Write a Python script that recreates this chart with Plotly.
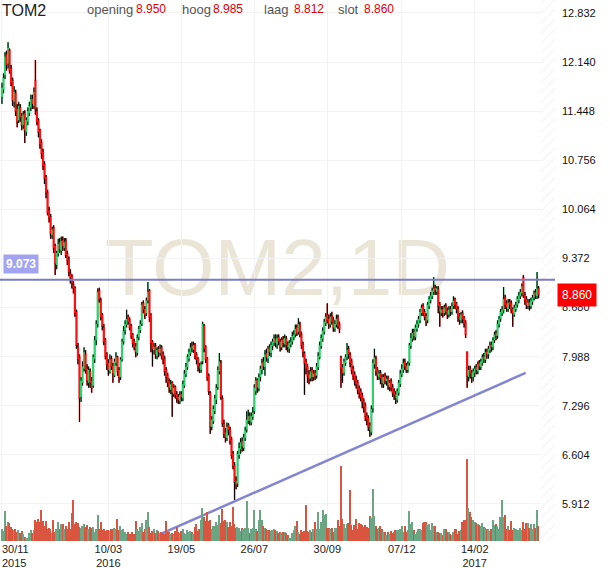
import plotly.graph_objects as go

# daily candles TOM2, 30/11/2015 .. begin april 2017
opens = [
    11.65, 11.75, 11.95, 12.25, 12.12, 12.30, 12.05, 11.88, 11.58, 11.70,
    11.48, 11.32, 11.50, 11.38, 11.25, 11.42, 11.15, 11.30, 11.42, 11.50,
    11.62, 11.52, 11.88, 11.45, 11.32, 11.18, 11.00, 10.88, 10.70, 10.52,
    10.30, 10.05, 9.96, 9.70, 9.80, 9.55, 9.28, 9.44, 9.60, 9.48,
    9.63, 9.52, 9.62, 9.44, 9.36, 9.16, 9.12, 9.00, 8.96, 8.62,
    8.12, 7.98, 7.42, 7.62, 7.82, 8.02, 7.82, 7.62, 7.78, 7.65,
    7.58, 7.95, 8.22, 8.45, 8.92, 8.78, 8.58, 8.40, 8.22, 8.02,
    7.90, 7.78, 7.96, 7.86, 7.72, 7.90, 7.98, 7.80, 7.70, 7.95,
    8.20, 8.36, 8.44, 8.55, 8.50, 8.42, 8.30, 8.20, 8.14, 8.04,
    8.26, 8.36, 8.45, 8.74, 8.66, 8.60, 8.78, 8.92, 8.58, 8.20,
    8.08, 8.14, 8.00, 8.10, 8.04, 8.12, 8.02, 7.96, 7.80, 7.72,
    7.64, 7.52, 7.62, 7.46, 7.56, 7.46, 7.42, 7.36, 7.46, 7.40,
    7.58, 7.74, 7.84, 7.96, 8.04, 8.14, 8.08, 8.16, 8.02, 7.96,
    7.86, 7.80, 7.92, 8.42, 8.12, 7.96, 7.72, 7.48, 7.00, 7.08,
    7.22, 7.38, 7.56, 7.78, 7.90, 7.40, 7.04, 6.92, 6.84, 7.02,
    6.96, 6.82, 6.62, 6.46, 6.24, 6.20, 6.60, 6.68, 6.80, 6.70,
    6.84, 6.96, 7.08, 7.16, 7.06, 7.14, 7.22, 7.50, 7.66, 7.54,
    7.70, 7.80, 7.92, 7.84, 8.04, 7.96, 8.12, 8.04, 8.14, 8.18,
    8.24, 8.16, 8.26, 8.20, 8.12, 8.24, 8.16, 8.24, 8.16, 8.10,
    8.16, 8.20, 8.26, 8.30, 8.40, 8.34, 8.44, 8.30, 8.16, 8.04,
    7.92, 7.84, 7.74, 7.68, 7.80, 7.70, 7.76, 7.72, 7.84, 7.98,
    8.14, 8.24, 8.34, 8.46, 8.58, 8.52, 8.44, 8.56, 8.50, 8.38,
    8.44, 8.54, 8.44, 7.98, 7.84, 7.76, 7.90, 7.98, 8.10, 8.02,
    7.92, 7.82, 7.74, 7.66, 7.62, 7.54, 7.50, 7.44, 7.36, 7.30,
    7.16, 7.12, 7.02, 6.92, 7.26, 7.88, 7.96, 7.80, 7.70, 7.76,
    7.70, 7.60, 7.72, 7.64, 7.68, 7.56, 7.64, 7.56, 7.50, 7.46,
    7.38, 7.48, 7.60, 7.74, 7.80, 7.92, 7.86, 7.80, 7.90, 8.14,
    8.24, 8.34, 8.26, 8.38, 8.44, 8.50, 8.60, 8.70, 8.62, 8.56,
    8.50, 8.70, 8.78, 8.84, 8.90, 8.96, 8.90, 8.94, 8.72, 8.60,
    8.66, 8.60, 8.70, 8.64, 8.58, 8.66, 8.62, 8.70, 8.80, 8.74,
    8.66, 8.56, 8.50, 8.60, 8.54, 8.46, 8.05, 7.70, 7.82, 7.76,
    7.70, 7.76, 7.84, 7.78, 7.90, 7.84, 7.90, 7.99, 7.94, 8.06,
    8.02, 8.08, 8.16, 8.12, 8.22, 8.32, 8.28, 8.44, 8.52, 8.60,
    8.64, 8.82, 8.74, 8.66, 8.76, 8.74, 8.66, 8.58, 8.66, 8.72,
    8.78, 8.84, 8.88, 9.10, 8.86, 8.80, 8.70, 8.76, 8.70, 8.76, 8.82, 8.90, 8.84, 8.95,
]
highs = [
    11.85, 11.98, 12.28, 12.30, 12.42, 12.33, 12.10, 11.92, 11.80, 11.75,
    11.55, 11.58, 11.55, 11.42, 11.45, 11.46, 11.36, 11.50, 11.58, 11.68,
    11.68, 11.78, 12.17, 11.50, 11.35, 11.20, 11.05, 10.92, 10.74, 10.55,
    10.34, 10.10, 10.00, 9.82, 9.84, 9.58, 9.48, 9.65, 9.66, 9.68,
    9.68, 9.66, 9.66, 9.48, 9.40, 9.22, 9.15, 9.05, 8.98, 8.65,
    8.18, 8.02, 7.70, 7.92, 8.12, 8.08, 7.88, 7.85, 7.82, 7.70,
    8.02, 8.28, 8.50, 8.95, 8.96, 8.82, 8.60, 8.45, 8.25, 8.05,
    7.95, 8.02, 8.00, 7.90, 7.96, 8.05, 8.00, 7.84, 7.98, 8.24,
    8.42, 8.50, 8.65, 8.58, 8.54, 8.45, 8.32, 8.24, 8.18, 8.30,
    8.42, 8.50, 8.76, 8.78, 8.70, 8.82, 9.04, 8.94, 8.60, 8.22,
    8.18, 8.18, 8.12, 8.14, 8.16, 8.15, 8.06, 8.00, 7.84, 7.76,
    7.68, 7.66, 7.64, 7.60, 7.58, 7.50, 7.46, 7.50, 7.50, 7.65,
    7.80, 7.90, 8.02, 8.10, 8.18, 8.20, 8.20, 8.18, 8.05, 7.98,
    7.90, 7.92, 8.48, 8.45, 8.15, 7.98, 7.75, 7.50, 7.15, 7.30,
    7.45, 7.60, 7.85, 8.04, 7.94, 7.44, 7.10, 6.98, 7.06, 7.05,
    7.00, 6.86, 6.66, 6.50, 6.30, 6.66, 6.78, 6.84, 6.85, 6.90,
    7.00, 7.22, 7.24, 7.20, 7.20, 7.28, 7.60, 7.70, 7.68, 7.75,
    7.86, 7.96, 7.98, 8.08, 8.10, 8.14, 8.16, 8.20, 8.24, 8.30,
    8.30, 8.30, 8.30, 8.24, 8.26, 8.28, 8.30, 8.28, 8.20, 8.22,
    8.26, 8.34, 8.36, 8.44, 8.44, 8.53, 8.48, 8.34, 8.20, 8.06,
    7.96, 7.88, 7.80, 7.84, 7.84, 7.80, 7.80, 7.90, 8.05, 8.20,
    8.30, 8.40, 8.52, 8.60, 8.74, 8.58, 8.60, 8.62, 8.55, 8.50,
    8.58, 8.58, 8.48, 8.00, 7.88, 7.96, 8.02, 8.18, 8.14, 8.05,
    7.96, 7.86, 7.78, 7.72, 7.66, 7.58, 7.54, 7.48, 7.40, 7.34,
    7.20, 7.16, 7.06, 7.30, 7.95, 8.10, 8.00, 7.84, 7.80, 7.80,
    7.74, 7.74, 7.76, 7.72, 7.72, 7.66, 7.68, 7.60, 7.54, 7.50,
    7.54, 7.66, 7.80, 7.88, 7.96, 7.96, 7.90, 7.92, 8.18, 8.32,
    8.38, 8.38, 8.44, 8.50, 8.56, 8.66, 8.72, 8.74, 8.66, 8.60,
    8.76, 8.84, 8.90, 8.96, 9.11, 9.00, 8.98, 8.98, 8.76, 8.70,
    8.70, 8.72, 8.74, 8.68, 8.70, 8.70, 8.75, 8.84, 8.82, 8.76,
    8.70, 8.60, 8.62, 8.64, 8.56, 8.50, 8.06, 7.86, 7.86, 7.80,
    7.82, 7.86, 7.88, 7.92, 7.94, 7.96, 8.02, 8.04, 8.10, 8.10,
    8.14, 8.20, 8.20, 8.26, 8.34, 8.36, 8.50, 8.56, 8.66, 8.70,
    8.97, 8.86, 8.78, 8.80, 8.80, 8.78, 8.68, 8.72, 8.76, 8.84,
    8.90, 8.94, 9.02, 9.14, 8.90, 8.84, 8.80, 8.80, 8.82, 8.86, 8.92, 8.94, 9.18, 8.985,
]
lows = [
    11.55, 11.70, 11.90, 12.02, 12.05, 11.98, 11.80, 11.52, 11.50, 11.38,
    11.22, 11.28, 11.30, 11.18, 11.20, 11.00, 11.10, 11.25, 11.38, 11.45,
    11.48, 11.48, 11.40, 11.25, 11.08, 10.92, 10.78, 10.62, 10.42, 10.22,
    9.98, 9.88, 9.65, 9.65, 9.45, 9.14, 9.22, 9.40, 9.45, 9.42,
    9.48, 9.48, 9.38, 9.28, 9.12, 9.02, 8.95, 8.88, 8.55, 8.10,
    7.88, 7.07, 7.35, 7.58, 7.78, 7.75, 7.58, 7.55, 7.55, 7.48,
    7.55, 7.90, 8.15, 8.40, 8.75, 8.50, 8.36, 8.15, 7.95, 7.80,
    7.72, 7.75, 7.80, 7.62, 7.70, 7.86, 7.72, 7.62, 7.66, 7.92,
    8.16, 8.30, 8.40, 8.44, 8.36, 8.24, 8.12, 8.08, 7.98, 8.00,
    8.22, 8.32, 8.42, 8.60, 8.52, 8.56, 8.74, 8.48, 8.05, 7.85,
    8.02, 7.96, 7.95, 7.98, 8.00, 7.95, 7.88, 7.72, 7.62, 7.56,
    7.48, 7.46, 7.14, 7.42, 7.40, 7.34, 7.32, 7.32, 7.36, 7.36,
    7.55, 7.70, 7.80, 7.92, 8.00, 8.05, 8.04, 7.95, 7.88, 7.78,
    7.76, 7.76, 7.88, 8.05, 7.90, 7.65, 7.45, 6.90, 6.95, 7.04,
    7.18, 7.32, 7.52, 7.74, 7.38, 7.00, 6.84, 6.78, 6.80, 6.88,
    6.75, 6.55, 6.40, 5.97, 6.12, 6.15, 6.55, 6.62, 6.65, 6.66,
    6.80, 6.92, 7.04, 7.02, 7.02, 7.10, 7.18, 7.45, 7.48, 7.50,
    7.64, 7.74, 7.80, 7.72, 7.92, 7.90, 8.00, 7.98, 8.08, 8.14,
    8.12, 8.10, 8.15, 8.06, 8.08, 8.12, 8.12, 8.08, 8.05, 8.04,
    8.12, 8.16, 8.22, 8.26, 8.28, 8.30, 8.26, 8.10, 7.98, 7.45,
    7.74, 7.62, 7.60, 7.64, 7.64, 7.65, 7.66, 7.68, 7.80, 7.95,
    8.10, 8.20, 8.30, 8.42, 8.46, 8.38, 8.40, 8.44, 8.34, 8.34,
    8.40, 8.38, 8.32, 7.55, 7.62, 7.72, 7.86, 7.94, 7.96, 7.84,
    7.74, 7.66, 7.58, 7.54, 7.46, 7.40, 7.36, 7.26, 7.20, 7.08,
    7.02, 6.94, 6.86, 6.88, 7.20, 7.82, 7.72, 7.66, 7.66, 7.60,
    7.55, 7.55, 7.60, 7.58, 7.52, 7.50, 7.50, 7.42, 7.38, 7.32,
    7.34, 7.44, 7.56, 7.70, 7.76, 7.80, 7.76, 7.76, 7.86, 8.10,
    8.20, 8.22, 8.22, 8.34, 8.40, 8.46, 8.56, 8.56, 8.50, 8.42,
    8.46, 8.66, 8.74, 8.80, 8.86, 8.86, 8.86, 8.60, 8.41, 8.56,
    8.54, 8.56, 8.58, 8.52, 8.54, 8.56, 8.58, 8.66, 8.66, 8.60,
    8.48, 8.44, 8.46, 8.46, 8.40, 8.25, 7.55, 7.64, 7.68, 7.62,
    7.64, 7.70, 7.74, 7.74, 7.80, 7.80, 7.86, 7.90, 7.90, 7.96,
    7.96, 8.04, 8.06, 8.08, 8.18, 8.22, 8.24, 8.40, 8.48, 8.56,
    8.60, 8.66, 8.62, 8.62, 8.66, 8.60, 8.41, 8.55, 8.62, 8.68,
    8.74, 8.80, 8.84, 8.82, 8.72, 8.66, 8.66, 8.64, 8.66, 8.72, 8.78, 8.80, 8.80, 8.812,
]
closes = [
    11.78, 11.92, 12.22, 12.10, 12.34, 12.02, 11.85, 11.60, 11.72, 11.45,
    11.30, 11.52, 11.36, 11.25, 11.40, 11.18, 11.32, 11.45, 11.52, 11.62,
    11.55, 11.72, 11.48, 11.30, 11.15, 10.98, 10.85, 10.68, 10.50, 10.30,
    10.02, 9.95, 9.72, 9.78, 9.52, 9.30, 9.45, 9.58, 9.50, 9.62,
    9.55, 9.60, 9.42, 9.35, 9.18, 9.10, 9.02, 8.95, 8.60, 8.15,
    7.95, 7.40, 7.65, 7.85, 8.05, 7.80, 7.65, 7.80, 7.62, 7.55,
    7.98, 8.22, 8.45, 8.90, 8.80, 8.55, 8.42, 8.20, 8.00, 7.88,
    7.80, 7.95, 7.85, 7.75, 7.92, 7.98, 7.78, 7.70, 7.95, 8.20,
    8.35, 8.45, 8.52, 8.48, 8.40, 8.28, 8.18, 8.12, 8.05, 8.25,
    8.38, 8.45, 8.72, 8.65, 8.58, 8.78, 8.90, 8.55, 8.18, 8.10,
    8.12, 8.02, 8.08, 8.05, 8.10, 8.00, 7.95, 7.78, 7.70, 7.62,
    7.55, 7.60, 7.48, 7.55, 7.45, 7.40, 7.38, 7.45, 7.42, 7.60,
    7.75, 7.85, 7.98, 8.05, 8.12, 8.10, 8.15, 8.00, 7.95, 7.85,
    7.82, 7.88, 8.45, 8.10, 7.95, 7.70, 7.50, 7.00, 7.10, 7.25,
    7.40, 7.55, 7.80, 7.92, 7.42, 7.05, 6.90, 6.85, 7.00, 6.95,
    6.80, 6.60, 6.45, 6.22, 6.18, 6.62, 6.70, 6.78, 6.72, 6.85,
    6.95, 7.10, 7.15, 7.08, 7.15, 7.20, 7.55, 7.65, 7.55, 7.70,
    7.82, 7.90, 7.85, 8.02, 7.98, 8.10, 8.05, 8.15, 8.20, 8.25,
    8.18, 8.25, 8.20, 8.12, 8.22, 8.18, 8.25, 8.15, 8.12, 8.18,
    8.20, 8.28, 8.30, 8.38, 8.32, 8.45, 8.30, 8.15, 8.05, 7.90,
    7.82, 7.72, 7.68, 7.78, 7.70, 7.75, 7.72, 7.85, 8.00, 8.15,
    8.25, 8.35, 8.48, 8.55, 8.50, 8.45, 8.55, 8.48, 8.40, 8.45,
    8.52, 8.42, 8.38, 7.82, 7.75, 7.92, 7.98, 8.08, 8.02, 7.90,
    7.80, 7.72, 7.65, 7.60, 7.52, 7.48, 7.42, 7.35, 7.28, 7.15,
    7.10, 7.00, 6.95, 7.25, 7.90, 7.98, 7.78, 7.72, 7.75, 7.68,
    7.62, 7.70, 7.65, 7.68, 7.58, 7.62, 7.55, 7.48, 7.45, 7.40,
    7.50, 7.62, 7.75, 7.82, 7.90, 7.85, 7.80, 7.88, 8.15, 8.25,
    8.32, 8.28, 8.40, 8.45, 8.52, 8.62, 8.68, 8.60, 8.55, 8.48,
    8.72, 8.80, 8.85, 8.92, 8.95, 8.92, 8.95, 8.70, 8.62, 8.65,
    8.60, 8.68, 8.62, 8.58, 8.65, 8.62, 8.70, 8.78, 8.72, 8.66,
    8.55, 8.50, 8.58, 8.52, 8.45, 8.30, 7.72, 7.80, 7.75, 7.70,
    7.78, 7.82, 7.80, 7.88, 7.85, 7.92, 7.98, 7.95, 8.05, 8.02,
    8.10, 8.15, 8.12, 8.22, 8.30, 8.28, 8.45, 8.52, 8.62, 8.65,
    8.80, 8.72, 8.68, 8.75, 8.72, 8.65, 8.60, 8.68, 8.72, 8.80,
    8.85, 8.90, 8.98, 8.85, 8.78, 8.72, 8.75, 8.70, 8.78, 8.82, 8.88, 8.85, 8.95, 8.86,
]
# volume in thousands of shares
volumes = [
    240, 200, 600, 300, 380, 360, 280, 240, 220, 240,
    180, 220, 160, 200, 140, 80, 60, 60, 160, 220,
    160, 220, 420, 380, 440, 380, 620, 400, 300, 400,
    240, 260, 240, 160, 420, 180, 240, 380, 240, 340,
    340, 240, 300, 240, 380, 240, 560, 820, 340, 380,
    360, 280, 260, 300, 340, 280, 320, 240, 280, 260,
    280, 180, 240, 520, 240, 380, 220, 240, 200, 220,
    220, 200, 240, 240, 260, 240, 440, 220, 300, 220,
    240, 180, 140, 180, 140, 140, 180, 140, 400, 240,
    200, 280, 360, 180, 240, 420, 580, 280, 160, 200,
    240, 160, 220, 200, 160, 180, 160, 140, 400, 180,
    180, 140, 160, 140, 200, 280, 180, 160, 200, 240,
    160, 140, 220, 180, 200, 180, 140, 280, 340, 200,
    240, 420, 660, 480, 400, 580, 400, 420, 240, 300,
    300, 380, 320, 520, 360, 640, 400, 420, 380, 280,
    380, 300, 680, 340, 260, 280, 260, 200, 260, 240,
    260, 800, 260, 160, 240, 260, 620, 240, 200, 420,
    620, 420, 300, 260, 240, 220, 220, 200, 220, 240,
    220, 200, 160, 180, 160, 180, 180, 160, 120, 60,
    60, 160, 220, 300, 400, 180, 140, 220, 180, 200,
    720, 200, 180, 220, 180, 240, 380, 240, 580, 240,
    380, 620, 520, 540, 260, 260, 240, 260, 180, 260,
    260, 420, 300, 1500, 440, 340, 260, 340, 360, 1020,
    320, 220, 320, 440, 240, 360, 340, 320, 280, 320,
    280, 260, 500, 460, 1040, 500, 300, 240, 260, 300,
    240, 180, 180, 120, 180, 140, 200, 160, 180, 220,
    220, 220, 240, 300, 180, 300, 180, 220, 600, 340,
    380, 220, 140, 180, 240, 240, 220, 360, 380, 380,
    320, 340, 220, 360, 300, 300, 180, 180, 160, 160,
    120, 240, 240, 180, 180, 140, 120, 180, 240, 240,
    140, 200, 220, 380, 420, 420, 1640, 660, 580, 480,
    420, 380, 360, 340, 320, 300, 360, 280, 260, 240,
    240, 200, 240, 420, 320, 340, 300, 240, 480, 820,
    480, 520, 240, 300, 220, 400, 220, 260, 240, 220,
    220, 260, 220, 380, 240, 360, 360, 260, 340, 240,
    340, 260, 620, 300,
]

tick_pos = [0, 70, 118, 166, 214, 263, 311]
tick_labels = ["30/11<br>2015", "10/03<br>2016", "19/05", "26/07",
               "30/09", "07/12", "14/02<br>2017"]
price_ticks = [5.912, 6.604, 7.296, 7.988, 8.680, 9.372, 10.064, 10.756, 11.448, 12.140, 12.832]

support_level = 9.073
trend_x = [94, 344.5]
trend_y = [5.39, 7.76]

y_lo, y_hi = 5.39, 13.015
x_lo, x_hi = -1.3, 363.8

idx = list(range(len(closes)))
up_green = "#2fd06c"
down_red = "#ff1010"

fig = go.Figure()

# hatched empty zone on the right (on the overlay x axis that carries the first date label)
fig.add_trace(go.Scatter(
    x=[354.5, x_hi, x_hi, 354.5, 354.5], y=[y_lo, y_lo, y_hi, y_hi, y_lo],
    xaxis="x2", fill="toself", fillcolor="white", mode="lines", line=dict(width=0),
    fillpattern=dict(shape="/", fgcolor="#e4e4e4", bgcolor="white", size=7, solidity=0.15),
    hoverinfo="skip", showlegend=False))

# volume
vcol = ["#6aa584" if c >= o else "#d9553f" for o, c in zip(opens, closes)]
fig.add_trace(go.Bar(x=idx, y=volumes, marker=dict(color=vcol, line=dict(width=0)),
                     width=0.95, yaxis="y2", showlegend=False, hoverinfo="skip"))

# candles
fig.add_trace(go.Candlestick(
    x=idx, open=opens, high=highs, low=lows, close=closes,
    increasing=dict(fillcolor=up_green, line=dict(color=up_green, width=1.5)),
    decreasing=dict(fillcolor=down_red, line=dict(color=down_red, width=1.5)),
    showlegend=False, hoverinfo="skip"))

# black wicks outside the body
wx, wy = [], []
for i, o, h, l, c in zip(idx, opens, highs, lows, closes):
    wx += [i, i, None, i, i, None]
    wy += [h, max(o, c), None, min(o, c), l, None]
fig.add_trace(go.Scatter(x=wx, y=wy, mode="lines", line=dict(color="black", width=1),
                         hoverinfo="skip", showlegend=False))

# trend line
fig.add_trace(go.Scatter(x=trend_x, y=trend_y, mode="lines",
                         line=dict(color="rgba(110,112,200,0.85)", width=2.5),
                         hoverinfo="skip", showlegend=False))

fig.add_shape(type="line", xref="paper", x0=0, x1=1, y0=support_level, y1=support_level,
              line=dict(color="#7b7dc2", width=2))
fig.add_shape(type="rect", xref="paper", yref="paper", x0=0.18, x1=0.82, y0=0.43, y1=0.61,
              line=dict(width=0), layer="below",
              label=dict(text="TOM2,1D", font=dict(size=80, color="#ebe5d8",
                                                  family="Liberation Sans")))

font = "Liberation Sans, Arial, sans-serif"
ann = [
    dict(text="TOM2", x=0, size=16, color="#222"),
    dict(text="opening", x=85, size=13, color="#555"),
    dict(text=f"{opens[-1]:.3f}", x=134, size=12, color="#e00000"),
    dict(text="hoog", x=180, size=13, color="#555"),
    dict(text=f"{highs[-1]:.3f}", x=211, size=12, color="#e00000"),
    dict(text="laag", x=262, size=13, color="#555"),
    dict(text=f"{lows[-1]:.3f}", x=292, size=12, color="#e00000"),
    dict(text="slot", x=336, size=13, color="#555"),
    dict(text=f"{closes[-1]:.3f}", x=362, size=12, color="#e00000"),
]
for a in ann:
    fig.add_annotation(text=a["text"], xref="paper", yref="paper", x=a["x"] / 555, y=1,
                       xanchor="left", yanchor="top", showarrow=False,
                       font=dict(size=a["size"], color=a["color"], family=font))

fig.add_annotation(text=f"<b>{support_level:.3f}</b>", xref="paper", x=0, y=support_level,
                   xanchor="left", yanchor="bottom", xshift=3, yshift=6, showarrow=False,
                   bgcolor="#a3a4ef", borderpad=2, font=dict(size=12, color="white", family=font))
fig.add_annotation(text=f"{closes[-1]:.3f}", xref="paper", x=1, y=closes[-1],
                   xanchor="left", xshift=2, showarrow=False, bgcolor="#ff0000", borderpad=4,
                   font=dict(size=12, color="white", family=font))

fig.update_layout(
    width=610, height=568, margin=dict(l=0, r=55, t=0, b=27, autoexpand=False),
    paper_bgcolor="white", plot_bgcolor="white", bargap=0,
    font=dict(family=font, size=11, color="#222"),
    xaxis=dict(range=[x_lo, x_hi], tickvals=tick_pos[1:], ticktext=tick_labels[1:],
               automargin=False, showgrid=True, gridcolor="#f2f2f2", zeroline=False, ticks="",
               rangeslider=dict(visible=False), tickfont=dict(size=11, color="#222")),
    # first date label sits right of its gridline, like the reference
    xaxis2=dict(range=[x_lo, x_hi], overlaying="x", side="bottom", tickvals=tick_pos[:1],
                ticktext=tick_labels[:1], ticklabelposition="outside right", automargin=False,
                showgrid=True, gridcolor="#f2f2f2", zeroline=False, ticks="",
                tickfont=dict(size=11, color="#222")),
    yaxis=dict(range=[y_lo, y_hi], side="right", tickvals=price_ticks, tickformat=".3f",
               automargin=False, showgrid=True, gridcolor="#f2f2f2", zeroline=False, ticks="",
               ticklabelstandoff=6, tickfont=dict(size=11, color="#111")),
    yaxis2=dict(range=[0, 10820], overlaying="y", visible=False),
)

# page body has a default 8px margin; drop it so the figure sits at the window corner
fig.write_html("out.html", config={"displayModeBar": False},
               post_script="document.body.style.margin='0';")
